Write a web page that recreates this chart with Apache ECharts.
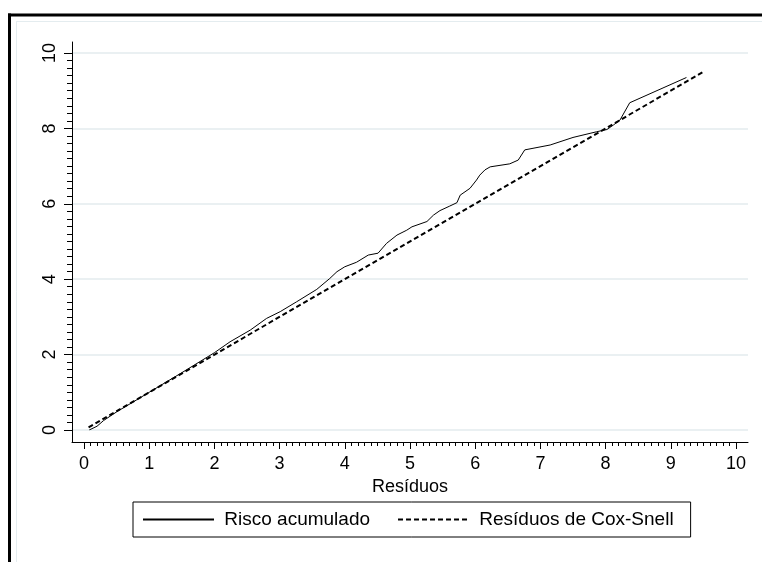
<!DOCTYPE html>
<html>
<head>
<meta charset="utf-8">
<script src="https://cdn.jsdelivr.net/npm/echarts@6/dist/echarts.min.js"></script>
<style>
  html, body { margin: 0; padding: 0; background: #fff; }
  #chart { width: 762px; height: 562px; }
</style>
</head>
<body>
<div id="chart"></div>
<script>
// Cox-Snell residuals (x) and Nelson-Aalen cumulative hazard (y)
const residuos = [0.08, 0.2, 0.3, 0.5, 1.0, 1.5, 2.0, 2.24, 2.55, 2.8, 3.01, 3.26, 3.57, 3.77, 3.88, 4.0, 4.18, 4.36, 4.51, 4.64, 4.8, 4.95, 5.03, 5.26, 5.36, 5.46, 5.61, 5.72, 5.77, 5.92, 6.02, 6.07, 6.15, 6.23, 6.53, 6.66, 6.76, 7.15, 7.5, 7.86, 8.02, 8.12, 8.22, 8.37, 9.24];
const riscoAcumulado = [0.0, 0.1, 0.25, 0.48, 1.0, 1.52, 2.05, 2.34, 2.65, 2.96, 3.14, 3.4, 3.73, 4.02, 4.2, 4.33, 4.45, 4.64, 4.69, 4.95, 5.17, 5.3, 5.39, 5.53, 5.7, 5.82, 5.94, 6.03, 6.23, 6.41, 6.63, 6.76, 6.9, 6.98, 7.06, 7.16, 7.43, 7.56, 7.76, 7.91, 7.97, 8.09, 8.22, 8.68, 9.35];
// 45-degree reference line endpoints
const refX = [0.07, 9.5];
const refY = [0.07, 9.5];
// axis tick values
const xTicks = [0, 1, 2, 3, 4, 5, 6, 7, 8, 9, 10];
const yTicks = [0, 2, 4, 6, 8, 10];

const FONT = 'Liberation Sans, Arial, sans-serif';
const chart = echarts.init(document.getElementById('chart'), null, { renderer: 'canvas' });

const hidden = { show: false };
const xMin = xTicks[0], xMax = xTicks[xTicks.length - 1], xStep = xTicks[1] - xTicks[0];
const yMin = yTicks[0], yMax = yTicks[yTicks.length - 1], yStep = yTicks[1] - yTicks[0];

chart.setOption({
  backgroundColor: '#fff',
  animation: false,
  graphic: [
    { type: 'line', shape: { x1: 16, y1: 21.5, x2: 762, y2: 21.5 }, style: { stroke: '#e4ecef', lineWidth: 1 } },
    { type: 'line', shape: { x1: 16.5, y1: 21, x2: 16.5, y2: 562 }, style: { stroke: '#e4ecef', lineWidth: 1 } },
    { type: 'line', shape: { x1: 8, y1: 15, x2: 762, y2: 15 }, style: { stroke: '#000', lineWidth: 3 } },
    { type: 'line', shape: { x1: 9.5, y1: 13.5, x2: 9.5, y2: 562 }, style: { stroke: '#000', lineWidth: 3 } }
  ],
  grid: [
    // y ticks, labels, gridlines
    { left: 72, right: 14, top: 53, bottom: 132 },
    // x ticks, labels, title
    { left: 84, right: 26, top: 42, bottom: 120 },
    // axis lines
    { left: 72, right: 14, top: 42, bottom: 120 },
    // plotted series
    { left: 84, right: 26, top: 53, bottom: 132 }
  ],
  xAxis: [
    { gridIndex: 0, type: 'value', min: xMin, max: xMax, show: false },
    {
      gridIndex: 1, type: 'value', min: xMin, max: xMax, interval: xStep,
      name: 'Resíduos', nameLocation: 'middle', nameGap: 31,
      nameTextStyle: { fontSize: 18, fontFamily: FONT, color: '#000' },
      axisLine: hidden,
      axisTick: { show: true, length: 7, lineStyle: { color: '#000', width: 1 } },
      minorTick: { show: true, splitNumber: 10, length: 4, lineStyle: { color: '#000', width: 1 } },
      axisLabel: { margin: 13, fontSize: 18, fontFamily: FONT, color: '#000' },
      splitLine: hidden
    },
    {
      gridIndex: 2, type: 'value', min: 0, max: 1,
      axisLine: { show: true, onZero: false, lineStyle: { color: '#000', width: 1 } },
      axisTick: hidden, axisLabel: hidden, splitLine: hidden
    },
    { gridIndex: 3, type: 'value', min: xMin, max: xMax, show: false }
  ],
  yAxis: [
    {
      gridIndex: 0, type: 'value', min: yMin, max: yMax, interval: yStep,
      axisLine: hidden,
      axisTick: { show: true, length: 8, lineStyle: { color: '#000', width: 1 } },
      minorTick: { show: true, splitNumber: 10, length: 5, lineStyle: { color: '#000', width: 1 } },
      axisLabel: { rotate: 90, margin: 13, fontSize: 18, fontFamily: FONT, color: '#000' },
      splitLine: { show: true, lineStyle: { color: '#e3ebee', width: 1.5 } }
    },
    { gridIndex: 1, type: 'value', min: 0, max: 1, show: false },
    {
      gridIndex: 2, type: 'value', min: 0, max: 1,
      axisLine: { show: true, onZero: false, lineStyle: { color: '#000', width: 1 } },
      axisTick: hidden, axisLabel: hidden, splitLine: hidden
    },
    { gridIndex: 3, type: 'value', min: yMin, max: yMax, show: false }
  ],
  legend: {
    left: 133, top: 502,
    orient: 'horizontal',
    padding: [8, 17, 8, 9],
    itemGap: 27,
    itemWidth: 71,
    itemHeight: 14,
    borderColor: '#000',
    borderWidth: 1,
    borderRadius: 0,
    // line-only keys: hide the marker drawn in the middle of each key
    itemStyle: { opacity: 0 },
    formatter: name => ' ' + name,
    textStyle: { fontSize: 19, fontFamily: FONT, color: '#000' },
    data: ['Risco acumulado', 'Resíduos de Cox-Snell']
  },
  series: [
    {
      name: 'Risco acumulado',
      type: 'line',
      xAxisIndex: 3, yAxisIndex: 3,
      data: residuos.map((x, i) => [x, riscoAcumulado[i]]),
      symbol: 'none',
      lineStyle: { color: '#000', width: 1 },
      itemStyle: { color: '#000' }
    },
    {
      name: 'Resíduos de Cox-Snell',
      type: 'line',
      xAxisIndex: 3, yAxisIndex: 3,
      data: refX.map((x, i) => [x, refY[i]]),
      symbol: 'none',
      lineStyle: { color: '#000', width: 2, type: [5, 3] },
      itemStyle: { color: '#000' }
    }
  ]
});
</script>
</body>
</html>
